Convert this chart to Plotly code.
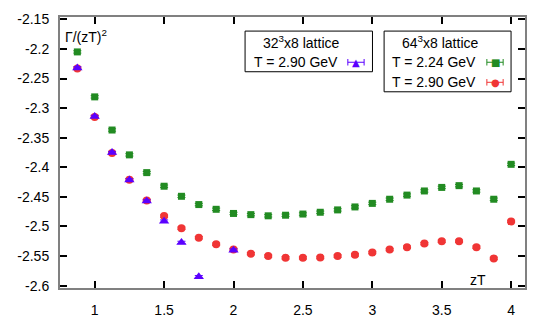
import plotly.graph_objects as go

# z T values (multiples of 1/8)
zt_64 = [0.875, 1.0, 1.125, 1.25, 1.375, 1.5, 1.625, 1.75, 1.875, 2.0,
         2.125, 2.25, 2.375, 2.5, 2.625, 2.75, 2.875, 3.0, 3.125, 3.25,
         3.375, 3.5, 3.625, 3.75, 3.875, 4.0]
g64_224 = [-2.205, -2.281, -2.337, -2.379, -2.409, -2.432, -2.449, -2.463, -2.471, -2.478,
           -2.480, -2.482, -2.481, -2.479, -2.476, -2.472, -2.467, -2.461, -2.454, -2.447,
           -2.440, -2.434, -2.431, -2.440, -2.454, -2.395]
g64_290 = [-2.233, -2.315, -2.376, -2.421, -2.456, -2.4825, -2.503, -2.519, -2.530, -2.539,
           -2.546, -2.550, -2.553, -2.553, -2.5525, -2.550, -2.548, -2.544, -2.539, -2.535,
           -2.529, -2.525, -2.525, -2.535, -2.554, -2.4915]
zt_32 = [0.875, 1.0, 1.125, 1.25, 1.375, 1.5, 1.625, 1.75, 2.0]
g32_290 = [-2.232, -2.314, -2.375, -2.4215, -2.457, -2.491, -2.527, -2.585, -2.540]

err_small = 0.002

ytick_vals = [-2.6, -2.55, -2.5, -2.45, -2.4, -2.35, -2.3, -2.25, -2.2, -2.15]
ytick_text = ['-2.6', '-2.55', '-2.5', '-2.45', '-2.4', '-2.35', '-2.3', '-2.25', '-2.2', '-2.15']
xtick_vals = [1, 1.5, 2, 2.5, 3, 3.5, 4]
xtick_text = ['1', '1.5', '2', '2.5', '3', '3.5', '4']

GREEN = '#228b22'
RED = '#f03535'
BLUE = '#5a00ff'
FONT = 'Liberation Sans, Arial, sans-serif'

fig = go.Figure()

fig.add_trace(go.Scatter(
    x=zt_64, y=g64_224, mode='markers', name='T = 2.24 GeV',
    marker=dict(symbol='square', size=7, color=GREEN),
    error_y=dict(type='constant', value=err_small, color=GREEN, width=4, thickness=1),
))
fig.add_trace(go.Scatter(
    x=zt_64, y=g64_290, mode='markers', name='T = 2.90 GeV',
    marker=dict(symbol='circle', size=8, color=RED),
    error_y=dict(type='constant', value=err_small, color=RED, width=4, thickness=1),
))
fig.add_trace(go.Scatter(
    x=zt_32, y=g32_290, mode='markers', name='T = 2.90 GeV (32)',
    marker=dict(symbol='triangle-up', size=9, color=BLUE),
    error_y=dict(type='constant', value=err_small, color=BLUE, width=4, thickness=1),
))

axis_common = dict(
    showline=True, linewidth=2, linecolor='#808080', mirror='allticks',
    ticks='inside', ticklen=7, tickcolor='black', tickwidth=1.5,
    showgrid=False, zeroline=False, automargin=False,
    tickfont=dict(family=FONT, size=14, color='black'),
)

# page body keeps an 8px margin, so the figure is 8px smaller than the window
fig.update_layout(
    width=540, height=321,
    margin=dict(l=52, r=23, t=9, b=41),
    plot_bgcolor='white', paper_bgcolor='white',
    showlegend=False,
    font=dict(family=FONT, size=14, color='black'),
    xaxis=dict(range=[0.75, 4.1], tickvals=xtick_vals, ticktext=xtick_text,
               ticklabelstandoff=8, **axis_common),
    yaxis=dict(range=[-2.604, -2.146], tickvals=ytick_vals, ticktext=ytick_text,
               ticklabelstandoff=6, **axis_common),
)

# axis labels inside the frame
fig.add_annotation(text='Γ/(zT)<sup>2</sup>', xref='paper', yref='paper', x=0.006, y=0.93,
                   xanchor='left', yanchor='middle', showarrow=False, font=dict(size=14))
fig.add_annotation(text='zT', xref='paper', yref='paper', x=0.899, y=0.029,
                   xanchor='center', yanchor='middle', showarrow=False, font=dict(size=14))

# legend boxes
fig.add_shape(type='rect', xref='paper', yref='paper', x0=0.398, x1=0.672, y0=0.798, y1=0.948,
              line=dict(color='black', width=1), fillcolor='white')
fig.add_shape(type='rect', xref='paper', yref='paper', x0=0.697, x1=0.970, y0=0.724, y1=0.948,
              line=dict(color='black', width=1), fillcolor='white')

fig.add_annotation(text='32<sup>3</sup>x8 lattice', xref='paper', yref='paper', x=0.518, y=0.907,
                   xanchor='center', yanchor='middle', showarrow=False, font=dict(size=14))
fig.add_annotation(text='64<sup>3</sup>x8 lattice', xref='paper', yref='paper', x=0.817, y=0.907,
                   xanchor='center', yanchor='middle', showarrow=False, font=dict(size=14))

entries = [
    ('T = 2.90 GeV', 0.602, 0.833, 0.619, 0.654, '▲', BLUE),
    ('T = 2.24 GeV', 0.899, 0.833, 0.918, 0.953, '■', GREEN),
    ('T = 2.90 GeV', 0.899, 0.759, 0.918, 0.953, '●', RED),
]
for label, tx, ty, sx0, sx1, glyph, col in entries:
    fig.add_annotation(text=label, xref='paper', yref='paper', x=tx, y=ty,
                       xanchor='right', yanchor='middle', showarrow=False, font=dict(size=14))
    fig.add_shape(type='line', xref='paper', yref='paper', x0=sx0, x1=sx1, y0=ty, y1=ty,
                  line=dict(color=col, width=1))
    for sx in (sx0, sx1):
        fig.add_shape(type='line', xref='paper', yref='paper', x0=sx, x1=sx,
                      y0=ty - 0.012, y1=ty + 0.012, line=dict(color=col, width=1))
    fig.add_annotation(text=glyph, xref='paper', yref='paper', x=(sx0 + sx1) / 2, y=ty,
                       xanchor='center', yanchor='middle', showarrow=False,
                       font=dict(size=10, color=col, family='DejaVu Sans'))

fig.write_html("out.html")
